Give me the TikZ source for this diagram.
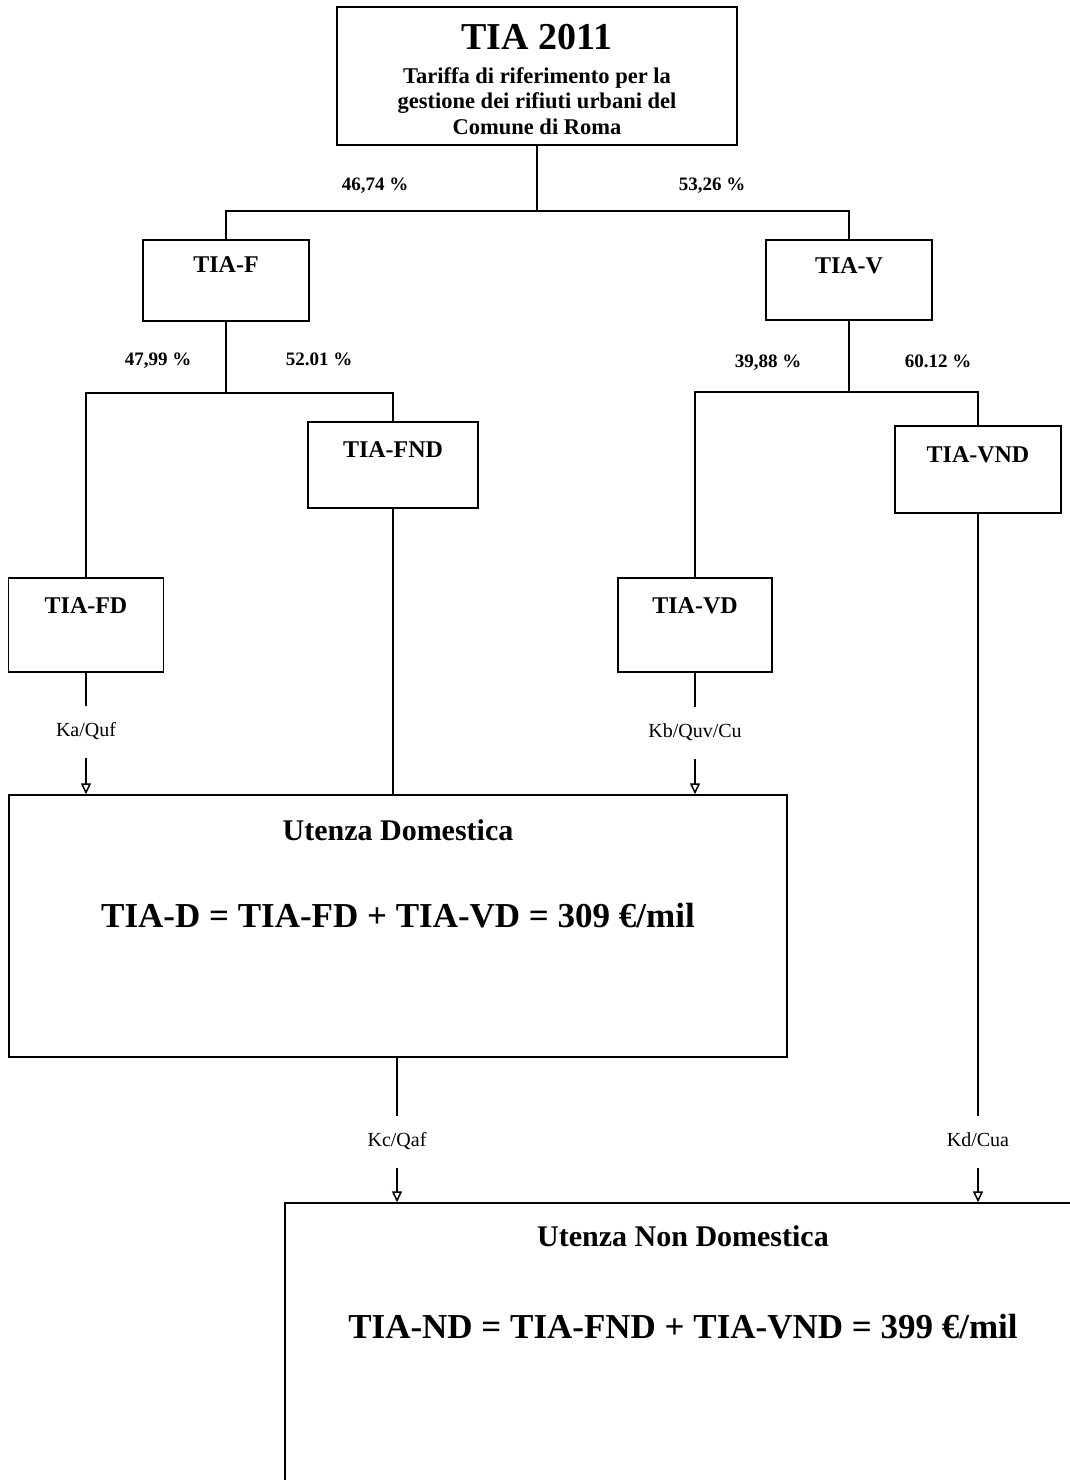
\documentclass[tikz,border=0pt]{standalone}
\usepackage{fontspec}
\setmainfont{Liberation Serif}
\usetikzlibrary{arrows.meta}

\newcommand{\fsz}[1]{\fontsize{#1}{#1}\selectfont}

\begin{document}
\begin{tikzpicture}[x=1pt,y=-1pt,
  box/.style={draw,line width=1.5pt,inner sep=0pt,anchor=base,font=\bfseries\fsz{24}},
  link/.style={line width=1.5pt},
  arr/.style={line width=1.5pt,-{Triangle[open,length=11pt,width=10pt]}},
  pct/.style={anchor=base,font=\bfseries\fsz{19}},
  klab/.style={inner xsep=2pt,inner ysep=17pt,text height=13pt,text depth=4pt,font=\fsz{20}},
  formula/.style={anchor=base,inner sep=0pt,font=\bfseries\fsz{35}}]

\useasboundingbox (0,0) rectangle (1070,1480);
\clip (0,0) rectangle (1070,1480);

\node[box,font=\bfseries\fsz{38},text height=43pt,text depth=95pt,minimum width=400pt] (tia) at (537,50) {TIA 2011};
\node[anchor=north,align=center,inner sep=0pt,font=\bfseries\fontsize{22.5}{25.5}\selectfont] (tiasub) at (537,67) {Tariffa di riferimento per la\\gestione dei rifiuti urbani del\\Comune di Roma};

\node[box,text height=32pt,text depth=49pt,minimum width=166pt] (tiaf) at (226,272) {TIA-F};
\node[box,text height=33pt,text depth=47pt,minimum width=166pt] (tiav) at (849,273) {TIA-V};
\node[box,text height=35pt,text depth=51pt,minimum width=170pt] (tiafnd) at (393,457) {TIA-FND};
\node[box,text height=36pt,text depth=51pt,minimum width=166pt] (tiavnd) at (978,462) {TIA-VND};
\node[box,text height=35pt,text depth=59pt,minimum width=155pt] (tiafd) at (86,613) {TIA-FD};
\node[box,text height=35pt,text depth=59pt,minimum width=154pt] (tiavd) at (695,613) {TIA-VD};

\node[box,font=\bfseries\fsz{30},text height=45pt,text depth=217pt,minimum width=778pt] (ud) at (398,840) {Utenza Domestica};
\node[formula] (udf) at (398,927) {TIA-D = TIA-FD + TIA-VD = 309 €/mil};
\node[box,font=\bfseries\fsz{30},text height=43pt,text depth=300pt,minimum width=796pt] (und) at (683,1246) {Utenza Non Domestica};
\node[formula] (undf) at (683,1338) {TIA-ND = TIA-FND + TIA-VND = 399 €/mil};

\node[pct] (p4674) at (375,190) {46,74 \%};
\node[pct] (p5326) at (712,190) {53,26 \%};
\node[pct] (p4799) at (158,365) {47,99 \%};
\node[pct] (p5201) at (319,365) {52.01 \%};
\node[pct] (p3988) at (768,367) {39,88 \%};
\node[pct] (p6012) at (938,367) {60.12 \%};

\node[klab] (kaquf) at (86,732) {Ka/Quf};
\node[klab] (kbquv) at (695,733) {Kb/Quv/Cu};
\node[klab] (kcqaf) at (397,1142) {Kc/Qaf};
\node[klab] (kdcua) at (978,1142) {Kd/Cua};

\coordinate (jtop) at (537,211);
\coordinate (jf) at (226,393);
\coordinate (jv) at (849,392);

\draw[link] (tia.south) -- (jtop);
\draw[link] (tiaf.north) |- (jtop) -| (tiav.north);
\draw[link] (tiaf.south) -- (jf);
\draw[link] (tiafd.north) |- (jf) -| (tiafnd.north);
\draw[link] (tiav.south) -- (jv);
\draw[link] (tiavd.north) |- (jv) -| (tiavnd.north);

\draw[link] (tiafd) -- (kaquf);
\draw[arr] (kaquf) -- (ud.north -| kaquf);
\draw[link] (tiavd) -- (kbquv);
\draw[arr] (kbquv) -- (ud.north -| kbquv);
\draw[link] (tiafnd) -- (ud.north -| tiafnd);

\draw[link] (ud.south -| kcqaf) -- (kcqaf);
\draw[arr] (kcqaf) -- (und.north -| kcqaf);
\draw[link] (tiavnd) -- (kdcua);
\draw[arr] (kdcua) -- (und.north -| kdcua);

\end{tikzpicture}
\end{document}
